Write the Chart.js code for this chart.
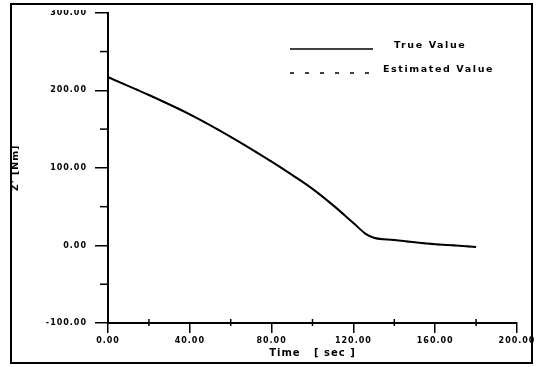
<!DOCTYPE html>
<html>
<head>
<meta charset="utf-8">
<script src="https://cdn.jsdelivr.net/npm/chart.js@4.4.0/dist/chart.umd.min.js"></script>
<style>
  html, body { margin: 0; padding: 0; background: #fff; }
  #wrap { width: 544px; height: 367px; }
</style>
</head>
<body>
<div id="wrap"><canvas id="chart"></canvas></div>
<script>
const timeSec = [0, 20, 40, 60, 80, 90, 100, 110, 120, 126, 130, 140, 150, 160, 170, 180];
const trueValue = [217, 194, 169, 140, 108, 91, 73, 52, 29, 15, 10, 7, 4, 1.5, 0, -2];
const estimatedValue = [217, 194, 169, 140, 108, 91, 73, 52, 29, 15, 10, 7, 4, 1.5, 0, -2];
const seriesNames = ['True Value', 'Estimated Value'];
const xTicks = [0, 200, 40];
const yTicks = [-100, 300, 100];

const FONT = '"DejaVu Sans", sans-serif';

function toPoints(ys) {
    return timeSec.map((t, i) => ({ x: t, y: ys[i] }));
}

const spacing = {
    id: 'spacing',
    beforeLayout(chart) { chart.ctx.letterSpacing = '1px'; },
    beforeDraw(chart) { chart.ctx.letterSpacing = '1px'; }
};

const extras = {
    id: 'extras',
    afterDraw(chart) {
        const ctx = chart.ctx;
        const x = chart.scales.x;
        const y = chart.scales.y;
        ctx.save();
        ctx.strokeStyle = '#000';
        ctx.lineWidth = 1.5;
        // minor ticks
        for (let v = 20; v < 200; v += 40) {
            const px = x.getPixelForValue(v);
            ctx.beginPath();
            ctx.moveTo(px, y.bottom - 4);
            ctx.lineTo(px, y.bottom + 3);
            ctx.stroke();
        }
        for (let v = -50; v < 300; v += 100) {
            const py = y.getPixelForValue(v);
            ctx.beginPath();
            ctx.moveTo(x.left - 8, py);
            ctx.lineTo(x.left, py);
            ctx.stroke();
        }
        // legend
        const items = [
            { y: 49, ty: 46, tx: 394, dash: [] },
            { y: 73, ty: 70, tx: 383, dash: [4, 11] }
        ];
        ctx.letterSpacing = '1.6px';
        ctx.font = 'bold 9.5px ' + FONT;
        ctx.textBaseline = 'middle';
        ctx.fillStyle = '#000';
        items.forEach((it, i) => {
            ctx.setLineDash(it.dash);
            ctx.lineWidth = 1.5;
            ctx.beginPath();
            ctx.moveTo(290, it.y);
            ctx.lineTo(373, it.y);
            ctx.stroke();
            ctx.setLineDash([]);
            ctx.fillText(seriesNames[i], it.tx, it.ty);
        });
        // frame (top label is clipped by it in the original)
        ctx.fillStyle = '#fff';
        ctx.fillRect(0, 0, 544, 10);
        ctx.lineWidth = 2;
        ctx.strokeRect(11, 4, 521, 359);
        ctx.restore();
    }
};

new Chart(document.getElementById('chart'), {
    type: 'line',
    data: {
        datasets: [
            {
                label: seriesNames[0],
                data: toPoints(trueValue),
                borderColor: '#000',
                borderWidth: 2,
                pointRadius: 0,
                cubicInterpolationMode: 'monotone',
                fill: false
            },
            {
                label: seriesNames[1],
                data: toPoints(estimatedValue),
                borderColor: '#000',
                borderWidth: 1.5,
                borderDash: [4, 11],
                pointRadius: 0,
                cubicInterpolationMode: 'monotone',
                fill: false
            }
        ]
    },
    options: {
        responsive: true,
        maintainAspectRatio: false,
        animation: false,
        layout: { padding: { left: 8, right: 27, top: 10, bottom: 0 } },
        plugins: { legend: { display: false }, tooltip: { enabled: false } },
        scales: {
            x: {
                type: 'linear',
                min: xTicks[0],
                max: xTicks[1],
                afterFit(s) { s.height = 44; },
                border: { display: true, color: '#000', width: 2 },
                grid: { drawOnChartArea: false, color: '#000', lineWidth: 1.5, tickLength: 10 },
                ticks: {
                    stepSize: xTicks[2],
                    color: '#000',
                    padding: 3,
                    maxRotation: 0,
                    font: { family: FONT, size: 8, weight: 'bold' },
                    callback: v => v.toFixed(2)
                },
                title: {
                    display: true,
                    text: 'Time   [ sec ]',
                    color: '#000',
                    padding: { top: 0, bottom: 8 },
                    font: { family: FONT, size: 10, weight: 'bold' }
                }
            },
            y: {
                min: yTicks[0],
                max: yTicks[1],
                afterFit(s) { s.width = 100; },
                border: { display: true, color: '#000', width: 2 },
                grid: { drawOnChartArea: false, color: '#000', lineWidth: 1.5, tickLength: 13 },
                ticks: {
                    stepSize: yTicks[2],
                    color: '#000',
                    padding: 8,
                    font: { family: FONT, size: 8, weight: 'bold' },
                    callback: v => v.toFixed(2)
                },
                title: {
                    display: true,
                    text: "Z' [Nm]",
                    color: '#000',
                    padding: { top: 2, bottom: 0 },
                    font: { family: FONT, size: 9.5, weight: 'bold' }
                }
            }
        }
    },
    plugins: [spacing, extras]
});
</script>
</body>
</html>
